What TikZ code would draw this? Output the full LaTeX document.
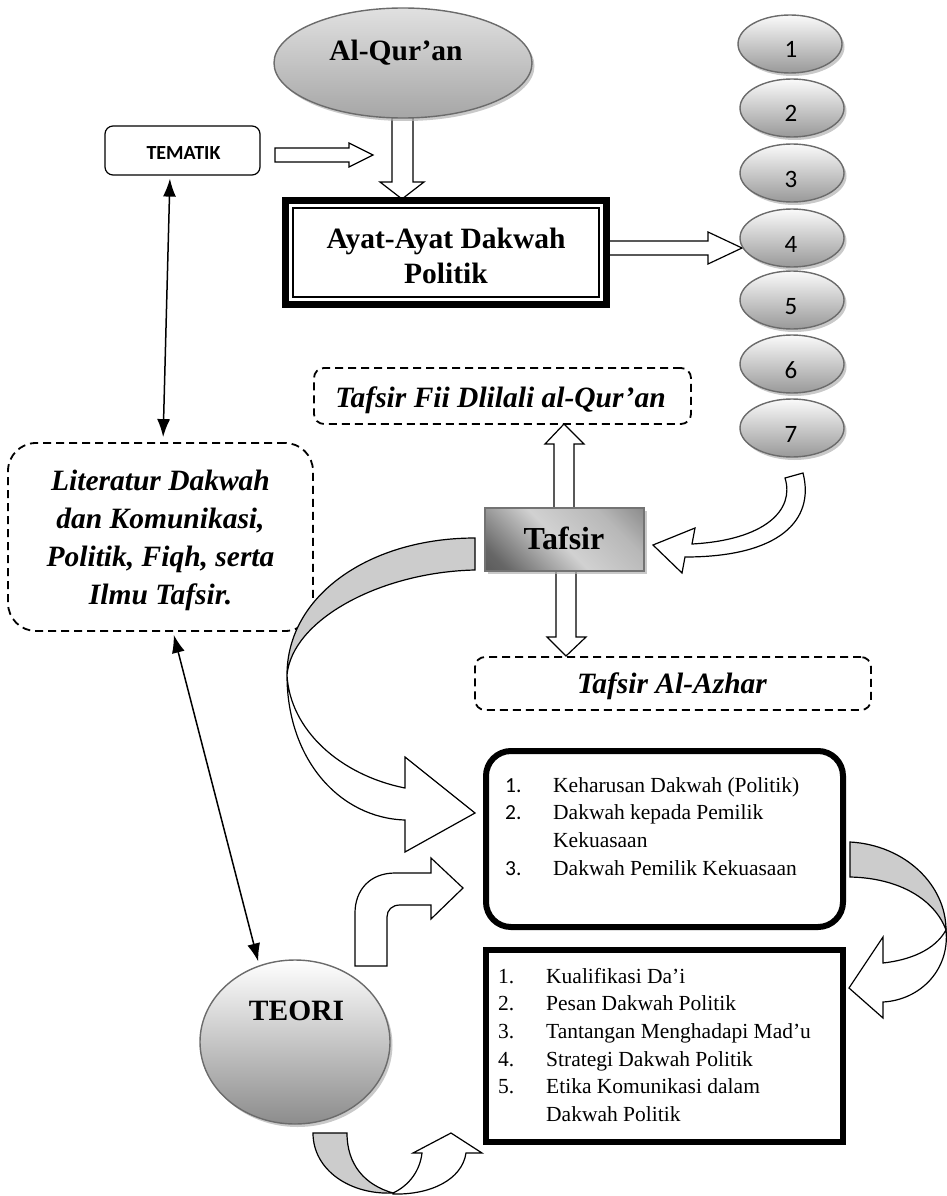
\documentclass[tikz,border=0pt]{standalone}
\usepackage{fontspec}
\setmainfont{Liberation Serif}
\newfontfamily\carlito{Carlito}
\usetikzlibrary{shapes.geometric,shadows,arrows.meta}
\pgfdeclarehorizontalshading{metal}{100bp}{color(0bp)=(black!72); color(22bp)=(black!60); color(48bp)=(black!18); color(70bp)=(black!28); color(100bp)=(black!62)}
\begin{document}
\begin{tikzpicture}[x=1pt,y=-1pt,
  blockarrow/.style={draw=black, fill=white, line width=1.2pt, line join=miter},
  backband/.style={draw=black, fill=black!20, line width=1.2pt, line join=miter},
  grayell/.style={ellipse, draw=black!58, line width=1.4pt, top color=black!2, bottom color=black!40, inner sep=0pt, drop shadow={shadow xshift=2.5pt, shadow yshift=-3pt, fill=black!30, opacity=0.7}},
  dashbox/.style={rectangle, draw=black, line width=1.8pt, dash pattern=on 8pt off 5pt, inner sep=0pt},
  thickbox/.style={rectangle, draw=black, line width=6pt, fill=white, inner sep=0pt},
  bigtxt/.style={inner sep=0pt, anchor=base, font=\bfseries\fontsize{29.5}{35}\selectfont},
  bigit/.style={inner sep=0pt, anchor=base, font=\bfseries\itshape\fontsize{29.5}{38.3}\selectfont},
  numtxt/.style={inner sep=0pt, anchor=base, font=\carlito\fontsize{25}{28}\selectfont},
  listtxt/.style={inner sep=0pt, anchor=base west, font=\fontsize{21.5}{27.7}\selectfont},
  dblarrow/.style={line width=1.5pt, {Latex[length=18pt,width=13pt]}-{Latex[length=18pt,width=13pt]}}
]
\useasboundingbox (0,0) rectangle (947,1196);

% Al-Qur'an and arrow down
\draw[blockarrow] (392,110) -- (392,182) -- (380,182) -- (402,199) -- (424,182) -- (413,182) -- (413,110) -- cycle;
\node[grayell, top color=black!12, bottom color=black!35, minimum width=258pt, minimum height=110pt] (quran) at (403,63) {};
\node[bigtxt] (qurantxt) at (396,61) {Al-Qur’an};

% TEMATIK
\node[rectangle, draw=black, line width=1.2pt, rounded corners=8pt, minimum width=155pt, minimum height=49pt, inner sep=0pt] (tematik) at (182.5,150.5) {};
\node[inner sep=0pt, anchor=base, font=\carlito\bfseries\fontsize{20}{23}\selectfont] (tematiktxt) at (183.5,159) {TEMATIK};
\draw[blockarrow] (275,148) -- (349,148) -- (349,143) -- (373,155) -- (349,167) -- (349,162) -- (275,162) -- cycle;

% arrow to ellipse 4
\draw[blockarrow] (600,241) -- (708,241) -- (708,232) -- (742,248) -- (708,264) -- (708,255) -- (600,255) -- cycle;

% Ayat box
\node[thickbox, line width=7pt, minimum width=321pt, minimum height=104pt] (ayat) at (446,252.5) {};
\node[rectangle, draw=black, line width=1.8pt, minimum width=306pt, minimum height=89pt, inner sep=0pt] (ayatin) at (446,252.5) {};
\node[bigtxt] (ayattxt) at (446,248) {\begin{tabular}[t]{@{}c@{}}Ayat-Ayat Dakwah\\Politik\end{tabular}};

% numbered ellipses
\foreach \n/\yy/\xx in {1/44/790, 2/108/792, 3/173/792, 4/238/792, 5/300/792, 6/364/792, 7/428/792}{
  \node[grayell, minimum width=104pt, minimum height=58pt] (e\n) at (\xx,\yy) {};
  \node[numtxt] (n\n) at (791,\yy+14) {\n};
}

% Tafsir Fii Dlilali
\draw[blockarrow] (554,512) -- (554,444) -- (545,444) -- (564,424) -- (584,444) -- (574,444) -- (574,512) -- cycle;
\node[dashbox, rounded corners=10pt, minimum width=377pt, minimum height=56pt] (fii) at (502.5,396) {};
\node[bigit] (fiitxt) at (500.5,407) {Tafsir Fii Dlilali al-Qur’an};

% down arrow to Al-Azhar
\draw[blockarrow] (556,568) -- (556,637) -- (547,637) -- (566,656) -- (586,637) -- (576,637) -- (576,568) -- cycle;

% Tafsir box
\node[rectangle, draw=black!55, line width=1.8pt, shade, shading=metal, shading angle=45, minimum width=159pt, minimum height=63pt, inner sep=0pt, drop shadow={shadow xshift=3pt, shadow yshift=-3pt, fill=black!30, opacity=0.7}] (tafsir) at (564.5,539.5) {};
\node[inner sep=0pt, anchor=base, font=\bfseries\fontsize{32}{36}\selectfont] (tafsirtxt) at (564,549) {Tafsir};

% Tafsir Al-Azhar
\node[dashbox, rounded corners=10pt, minimum width=396pt, minimum height=53pt] (azhar) at (673,683.5) {};
\node[bigit] (azhartxt) at (672,693) {Tafsir Al-Azhar};

% curved arrow from 7 to Tafsir
\draw[blockarrow] (785,478) -- (803,473) .. controls (815,520) and (780,557) .. (685,557) -- (682,573) -- (653,545) -- (695,528) -- (692,544) .. controls (765,540) and (795,510) .. (785,478) -- cycle;

% Literatur box
\node[dashbox, rounded corners=28pt, minimum width=305pt, minimum height=188pt] (lit) at (160.5,537) {};
\node[bigit] (littxt) at (160.5,490) {\begin{tabular}[t]{@{}c@{}}Literatur Dakwah\\dan Komunikasi,\\Politik, Fiqh, serta\\Ilmu Tafsir.\end{tabular}};

% big curved arrow Tafsir -> box1
\draw[backband] (475,538) .. controls (370,538) and (287,595) .. (287,675) .. controls (292,620) and (380,572) .. (475,570) -- cycle;
\draw[blockarrow] (287,675) .. controls (287,760) and (340,818) .. (405,820) -- (405,852) -- (475,813) -- (405,757) -- (405,788) .. controls (340,775) and (290,730) .. (287,675) -- cycle;

% box1
\node[thickbox, rounded corners=25pt, minimum width=357pt, minimum height=176pt] (box1) at (664.5,839) {};
\node[listtxt] (box1txt) at (505,792) {\begin{tabular}[t]{@{}l@{}}
\makebox[48pt][l]{\carlito 1.}Keharusan Dakwah (Politik)\\
\makebox[48pt][l]{\carlito 2.}Dakwah kepada Pemilik\\
\hspace*{48pt}Kekuasaan\\
\makebox[48pt][l]{\carlito 3.}Dakwah Pemilik Kekuasaan
\end{tabular}};

% box2
\node[thickbox, minimum width=357pt, minimum height=192pt] (box2) at (664.5,1046) {};
\node[listtxt] (box2txt) at (498,983) {\begin{tabular}[t]{@{}l@{}}
\makebox[48pt][l]{1.}Kualifikasi Da’i\\
\makebox[48pt][l]{2.}Pesan Dakwah Politik\\
\makebox[48pt][l]{3.}Tantangan Menghadapi Mad’u\\
\makebox[48pt][l]{4.}Strategi Dakwah Politik\\
\makebox[48pt][l]{5.}Etika Komunikasi dalam\\
\hspace*{48pt}Dakwah Politik
\end{tabular}};

% right curved arrow box1 -> box2
\draw[backband] (850,842) .. controls (905,845) and (946,885) .. (946,930) .. controls (935,900) and (900,878) .. (850,877) -- cycle;
\draw[blockarrow] (946,930) .. controls (950,970) and (920,1000) .. (883,1002) -- (883,1018) -- (849,988) -- (883,937) -- (883,963) .. controls (910,960) and (935,950) .. (946,930) -- cycle;

% bent arrow TEORI -> box1
\draw[blockarrow] (355,966) -- (355,913) .. controls (355,890) and (370,873) .. (395,873) -- (431,873) -- (431,858) -- (463,888) -- (431,919) -- (431,905) -- (400,905) .. controls (392,905) and (387,910) .. (387,917) -- (387,966) -- cycle;

% TEORI
\node[grayell, top color=white, bottom color=black!45, minimum width=190pt, minimum height=164pt] (teori) at (295,1042) {};
\node[bigtxt] (teoritxt) at (296.5,1020) {TEORI};

% U arrow under TEORI
\draw[backband] (313,1133) -- (347,1133) .. controls (347,1165) and (365,1185) .. (393,1193) .. controls (350,1195) and (313,1170) .. (313,1133) -- cycle;
\draw[blockarrow] (393,1193) .. controls (410,1185) and (420,1170) .. (422,1153) -- (413,1153) -- (451,1133) -- (482,1153) -- (466,1153) .. controls (462,1180) and (430,1195) .. (393,1194) -- cycle;

% double arrows
\draw[dblarrow, shorten <=3pt, shorten >=5pt] ([xshift=-12.5pt]tematik.south) -- ([xshift=2.5pt]lit.north);
\draw[dblarrow, shorten <=3pt, shorten >=4pt] ([xshift=12.5pt]lit.south) -- (teori.115);
\end{tikzpicture}
\end{document}
